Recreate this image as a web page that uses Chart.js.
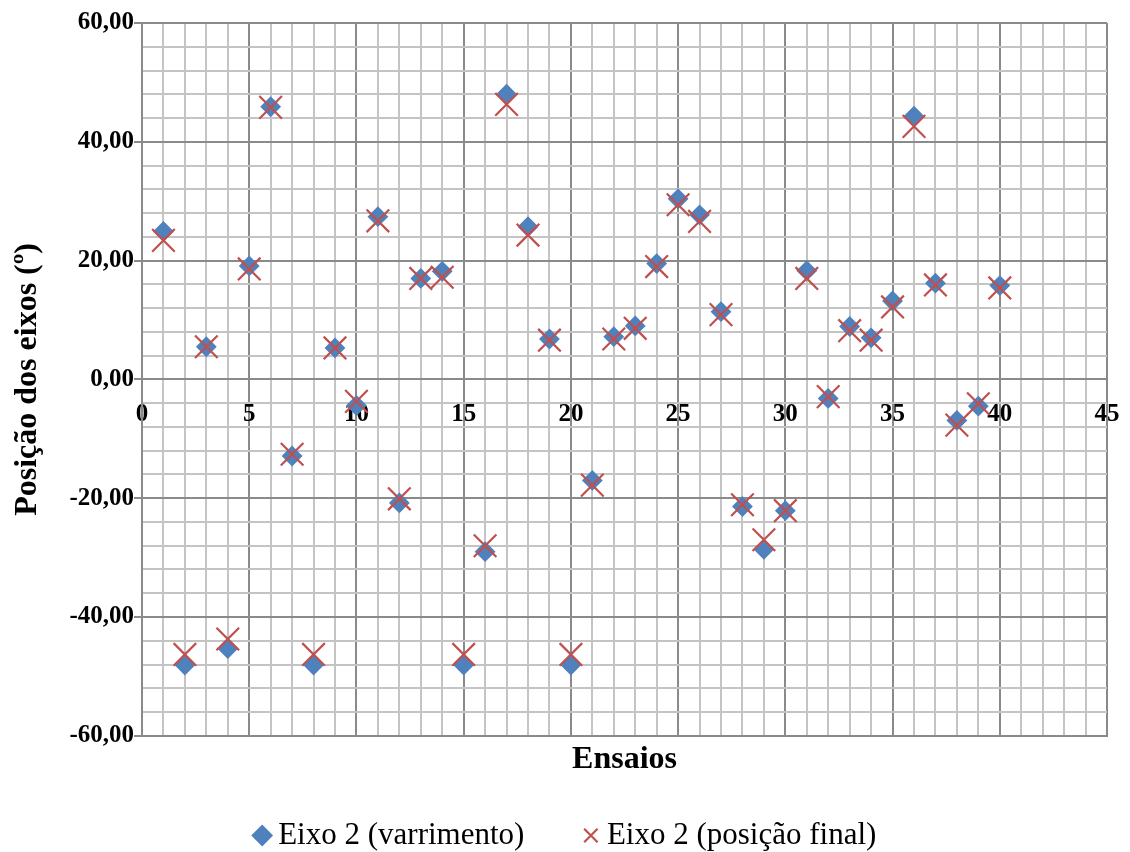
<!DOCTYPE html>
<html>
<head>
<meta charset="utf-8">
<script src="https://cdn.jsdelivr.net/npm/chart.js@4/dist/chart.umd.min.js"></script>
<style>
  html, body { margin: 0; padding: 0; background: #ffffff; }
  #wrap { width: 1130px; height: 852px; }
</style>
</head>
<body>
<div id="wrap"><canvas id="c" width="1130" height="852"></canvas></div>
<script>
const ensaios = [1,2,3,4,5,6,7,8,9,10,11,12,13,14,15,16,17,18,19,20,21,22,23,24,25,26,27,28,29,30,31,32,33,34,35,36,37,38,39,40];
const varrimento = [24.9,-48.1,5.5,-45.3,19.1,45.9,-12.9,-48.1,5.3,-4.4,27.4,-20.8,17.0,18.2,-48.1,-29.0,48.0,25.7,6.8,-48.1,-17.0,7.2,9.0,19.5,30.4,27.7,11.4,-21.4,-28.6,-22.1,18.3,-3.2,8.9,7.0,13.2,44.3,16.2,-6.9,-4.5,15.8];
const posicaoFinal = [23.4,-46.3,5.5,-43.7,18.6,45.8,-12.6,-46.3,5.3,-3.7,26.7,-20.1,17.0,17.2,-46.3,-28.0,46.3,24.3,6.6,-46.3,-17.8,6.8,8.6,19.0,29.4,26.6,10.9,-21.1,-27.0,-22.1,17.0,-2.9,8.2,6.6,12.2,42.6,15.9,-7.7,-4.1,15.4];
const seriesNames = ['Eixo 2 (varrimento)', 'Eixo 2 (posição final)'];
const xTitle = 'Ensaios';
const yTitle = 'Posição dos eixos (º)';

const SERIF = "'Liberation Serif', 'Times New Roman', serif";
const MAJOR = '#8a8a8a';
const MINOR = '#c4c4c4';

const toPts = (ys) => ensaios.map((x, i) => ({ x: x, y: ys[i] }));

const legendShift = {
  id: 'legendShift',
  afterLayout(chart) {
    const l = chart.legend;
    if (l) { l.top += 9; l.bottom += 9; }
  }
};

new Chart(document.getElementById('c'), {
  type: 'scatter',
  data: {
    datasets: [
      {
        label: seriesNames[0],
        data: toPts(varrimento),
        order: 1,
        pointStyle: 'rectRot',
        pointRadius: 9,
        pointHoverRadius: 9,
        backgroundColor: '#4f81bd',
        borderColor: '#4f81bd',
        borderWidth: 2,
        xAxisID: 'x', yAxisID: 'y'
      },
      {
        label: seriesNames[1],
        data: toPts(posicaoFinal),
        order: 0,
        pointStyle: 'crossRot',
        pointRadius: 16,
        pointHoverRadius: 16,
        backgroundColor: '#c0504d',
        borderColor: '#c0504d',
        borderWidth: 2.2,
        xAxisID: 'x', yAxisID: 'y'
      }
    ]
  },
  plugins: [legendShift],
  options: {
    responsive: false,
    animation: false,
    events: [],
    layout: { padding: { left: 8, right: 0, top: 23, bottom: 0 } },
    scales: {
      x: {
        type: 'linear',
        position: 'bottom',
        min: 0, max: 45,
        ticks: { display: false, stepSize: 1, autoSkip: false },
        grid: {
          drawTicks: false,
          lineWidth: 2,
          color: (ctx) => (ctx.tick && ctx.tick.value % 5 === 0) ? MAJOR : MINOR
        },
        border: { display: true, color: MAJOR, width: 2 },
        title: {
          display: true,
          text: xTitle,
          color: '#000000',
          font: { family: SERIF, size: 32, weight: 'bold' },
          padding: { top: 4.4, bottom: 28.4 }
        }
      },
      xZero: {
        type: 'linear',
        position: { y: 0 },
        min: 0, max: 45,
        afterFit: (s) => { s.paddingLeft = 0; s.paddingRight = 0; },
        grid: { display: false, drawTicks: false },
        border: { display: false },
        ticks: {
          stepSize: 5,
          autoSkip: false,
          maxRotation: 0,
          padding: 20,
          color: '#000000',
          font: { family: SERIF, size: 25, weight: 'bold' }
        }
      },
      y: {
        type: 'linear',
        position: 'left',
        min: -60, max: 60,
        afterFit: (s) => { s.width = 134; },
        ticks: {
          stepSize: 4,
          autoSkip: false,
          padding: 0,
          color: '#000000',
          font: { family: SERIF, size: 25, weight: 'bold' },
          callback: (v) => (v % 20 === 0) ? v.toFixed(2).replace('.', ',') : ''
        },
        grid: {
          drawTicks: true,
          tickLength: 8,
          lineWidth: 2,
          tickWidth: 2,
          color: (ctx) => (ctx.tick && ctx.tick.value % 20 === 0) ? MAJOR : MINOR,
          tickColor: (ctx) => (ctx.tick && ctx.tick.value % 20 === 0) ? MAJOR : 'rgba(0,0,0,0)'
        },
        border: { display: true, color: MAJOR, width: 2 },
        title: {
          display: true,
          text: yTitle,
          color: '#000000',
          font: { family: SERIF, size: 32, weight: 'bold' },
          padding: { top: 0.8, bottom: 0 }
        }
      },
      yRight: {
        type: 'linear',
        position: 'right',
        display: true,
        afterFit: (s) => { s.width = 23; },
        grid: { display: false, drawTicks: false },
        border: { display: false },
        ticks: { display: false }
      }
    },
    plugins: {
      tooltip: { enabled: false },
      legend: {
        display: true,
        position: 'bottom',
        align: 'center',
        labels: {
          usePointStyle: true,
          boxWidth: 1,
          boxHeight: 13.4,
          padding: 4,
          color: '#000000',
          font: { family: SERIF, size: 31, weight: 'normal' },
          sort: (a, b) => a.datasetIndex - b.datasetIndex,
          generateLabels: (chart) => {
            const items = Chart.defaults.plugins.legend.labels.generateLabels(chart);
            items.forEach((it) => {
              if (it.datasetIndex === 0) it.text = it.text + '\u00a0'.repeat(8);
            });
            return items;
          }
        }
      }
    }
  }
});
</script>
</body>
</html>
